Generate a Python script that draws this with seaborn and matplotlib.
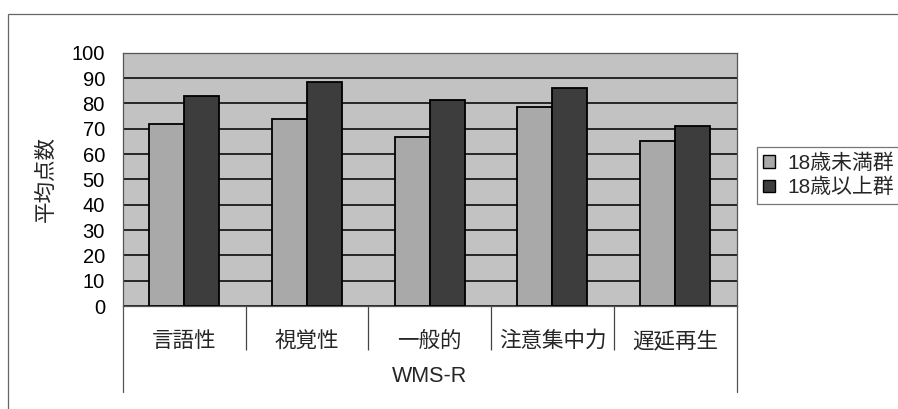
import matplotlib
matplotlib.use("Agg")
import matplotlib.pyplot as plt
from matplotlib.lines import Line2D
from matplotlib.patches import Rectangle
import seaborn as sns
import pandas as pd

# WMS-R subscale means by age group
categories = ["言語性", "視覚性", "一般的", "注意集中力", "遅延再生"]
groups = ["18歳未満群", "18歳以上群"]
under18 = [71.7, 73.9, 66.8, 78.6, 65.3]
over18 = [83.0, 88.3, 81.2, 86.0, 71.0]
yticks = [0, 10, 20, 30, 40, 50, 60, 70, 80, 90, 100]

df = pd.DataFrame({
    "category": categories * 2,
    "group": [groups[0]] * len(categories) + [groups[1]] * len(categories),
    "score": under18 + over18,
})

sns.set_theme(style="white")
plt.rcParams["font.family"] = ["Liberation Sans", "Noto Sans CJK JP", "DejaVu Sans"]

W, H = 898, 409
fig = plt.figure(figsize=(W / 100, H / 100), dpi=100)
fig.patch.set_facecolor("white")

left, right, top, bottom = 123, 736.5, 52.7, 306
ax = fig.add_axes([left / W, 1 - bottom / H, (right - left) / W, (bottom - top) / H])
ax.set_facecolor("#c2c2c2")

palette = {groups[0]: "#a9a9a9", groups[1]: "#3d3d3d"}
sns.barplot(data=df, x="category", y="score", hue="group", order=categories,
            hue_order=groups, palette=palette, width=0.57, gap=0,
            edgecolor="black", linewidth=1.3, saturation=1, ax=ax, zorder=3)

ax.set_ylim(0, 100)
ax.set_xlim(-0.5, len(categories) - 0.5)
ax.set_yticks(yticks)
ax.set_yticklabels([str(v) for v in yticks])
ax.yaxis.grid(True, color="#1a1a1a", linewidth=1.3, zorder=1)
ax.set_axisbelow(True)

ax.tick_params(axis="y", length=0, pad=13, labelsize=14.5, colors="black")
ax.tick_params(axis="x", which="major", length=0, pad=18, labelsize=15.5)

# category separators below the plot area
ax.set_xticks([i + 0.5 for i in range(len(categories) - 1)], minor=True)
ax.tick_params(axis="x", which="minor", length=32, width=0.9, color="#444444",
               direction="out", bottom=True)

for s in ax.spines.values():
    s.set_color("#555555")
    s.set_linewidth(0.9)

# outer group bracket lines
for xa in (0, 1):
    ax.add_line(Line2D([xa, xa], [0, -86 / (bottom - top)], transform=ax.transAxes,
                       color="#555555", linewidth=0.9, clip_on=False))

ax.set_xlabel("WMS-R", fontsize=15.5)
ax.xaxis.set_label_coords(0.5, -0.235)
ax.set_ylabel("平均点数", fontsize=15.5)
ax.yaxis.set_label_coords(-0.108, 0.5)

leg = ax.legend(loc="upper left", bbox_to_anchor=(757 / W, 1 - 147 / H),
                bbox_transform=fig.transFigure, borderaxespad=0, frameon=True,
                fancybox=False, edgecolor="#555555", fontsize=15,
                handlelength=0.55, handleheight=0.55, handletextpad=0.6,
                borderpad=0.3, labelspacing=0.25, title=None)
leg.get_frame().set_linewidth(0.9)
for h in leg.legend_handles:
    h.set_edgecolor("black")
    h.set_linewidth(1.0)

# chart frame
fig.add_artist(Rectangle((8 / W, -0.05), 1.0, 1 - 14 / H + 0.05, transform=fig.transFigure,
                         fill=False, edgecolor="#666666", linewidth=0.9, clip_on=False))

fig.savefig("out.png", dpi=100)
